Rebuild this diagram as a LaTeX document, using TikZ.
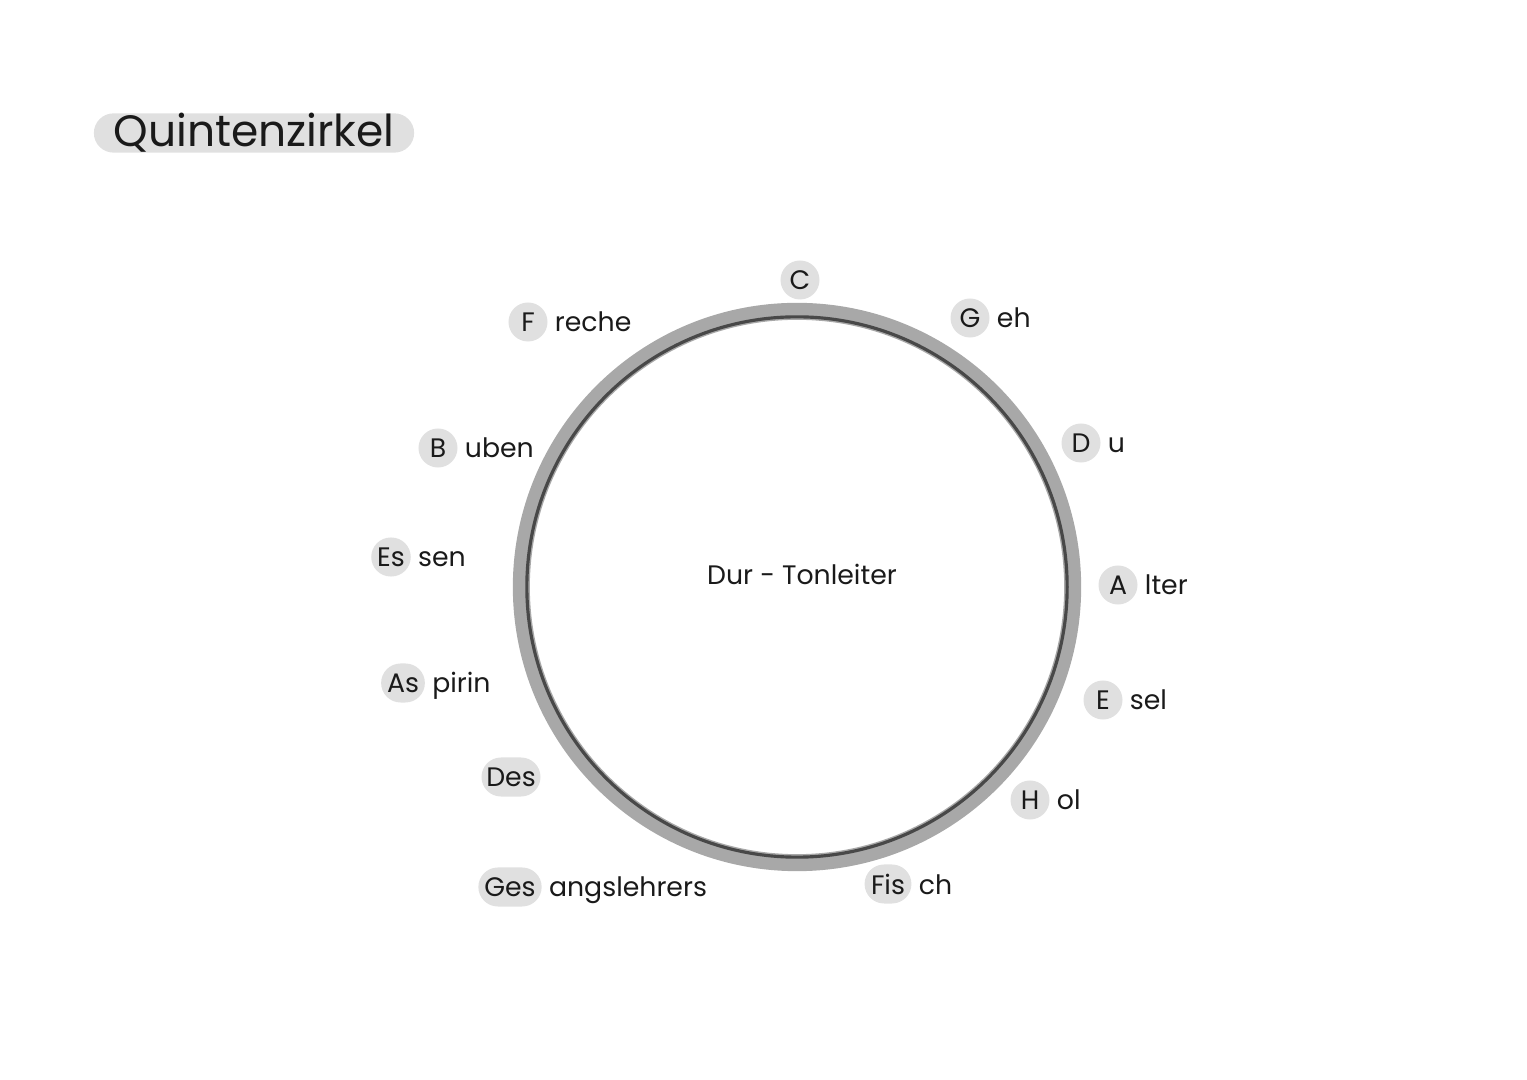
\documentclass[tikz,border=0pt]{standalone}
\usepackage{fontspec}
\setmainfont{Poppins}
\usepackage{tikz}
\usetikzlibrary{positioning}
\usetikzlibrary{shapes.misc}
\definecolor{badge}{HTML}{E0E0E0}
\definecolor{ring}{HTML}{A8A8A8}
\definecolor{ink}{HTML}{1A1A1A}

\begin{document}
\begin{tikzpicture}[x=0.01cm, y=-0.01cm, text=ink,
  every node/.style={font=\fontsize{7.6}{9}\selectfont},
  dot/.style={circle, fill=badge, minimum size=0.39cm, inner sep=0pt},
  pill/.style={rounded rectangle, fill=badge, minimum height=0.39cm, inner sep=0.035cm},
  word/.style={inner sep=0pt, right=0.06cm of #1.base east, anchor=base west}]
\path[use as bounding box] (0,0) rectangle (1527,1080);
% title
\node[rounded rectangle, fill=badge, minimum height=0.39cm, minimum width=3.16cm, inner sep=0pt, font=\fontsize{12.5}{15}\selectfont] (title) at (254,133) {Quintenzirkel};
% circle
\coordinate (mid) at (797,587);
\draw[ring, line width=0.17cm] (mid) circle (2.755cm);
\draw[ink!80, line width=0.9pt] (mid) circle (2.70cm);
\node (dur) at (802,574) {Dur - Tonleiter};
% notes
\node[dot] (c) at (800,280) {C};
\node[dot] (g) at (970,318) {G};
\node[word=g] (gw) {eh};
\node[dot] (d) at (1081,443) {D};
\node[word=d] (dw) {u};
\node[dot] (a) at (1118,585) {A};
\node[word=a] (aw) {lter};
\node[dot] (e) at (1103,700) {E};
\node[word=e] (ew) {sel};
\node[dot] (h) at (1030,800) {H};
\node[word=h] (hw) {ol};
\node[pill] (fis) at (888,884) {Fis};
\node[word=fis] (fisw) {ch};
\node[pill] (ges) at (510,887) {Ges};
\node[word=ges] (gesw) {angslehrers};
\node[pill, minimum width=0.66cm] (des) at (511,777) {Des};
\node[pill] (as) at (403,683) {As};
\node[word=as] (asw) {pirin};
\node[pill] (es) at (391,557) {Es};
\node[word=es] (esw) {sen};
\node[dot] (b) at (438,448) {B};
\node[word=b] (bw) {uben};
\node[dot] (f) at (528,322) {F};
\node[word=f] (fw) {reche};
\end{tikzpicture}
\end{document}
